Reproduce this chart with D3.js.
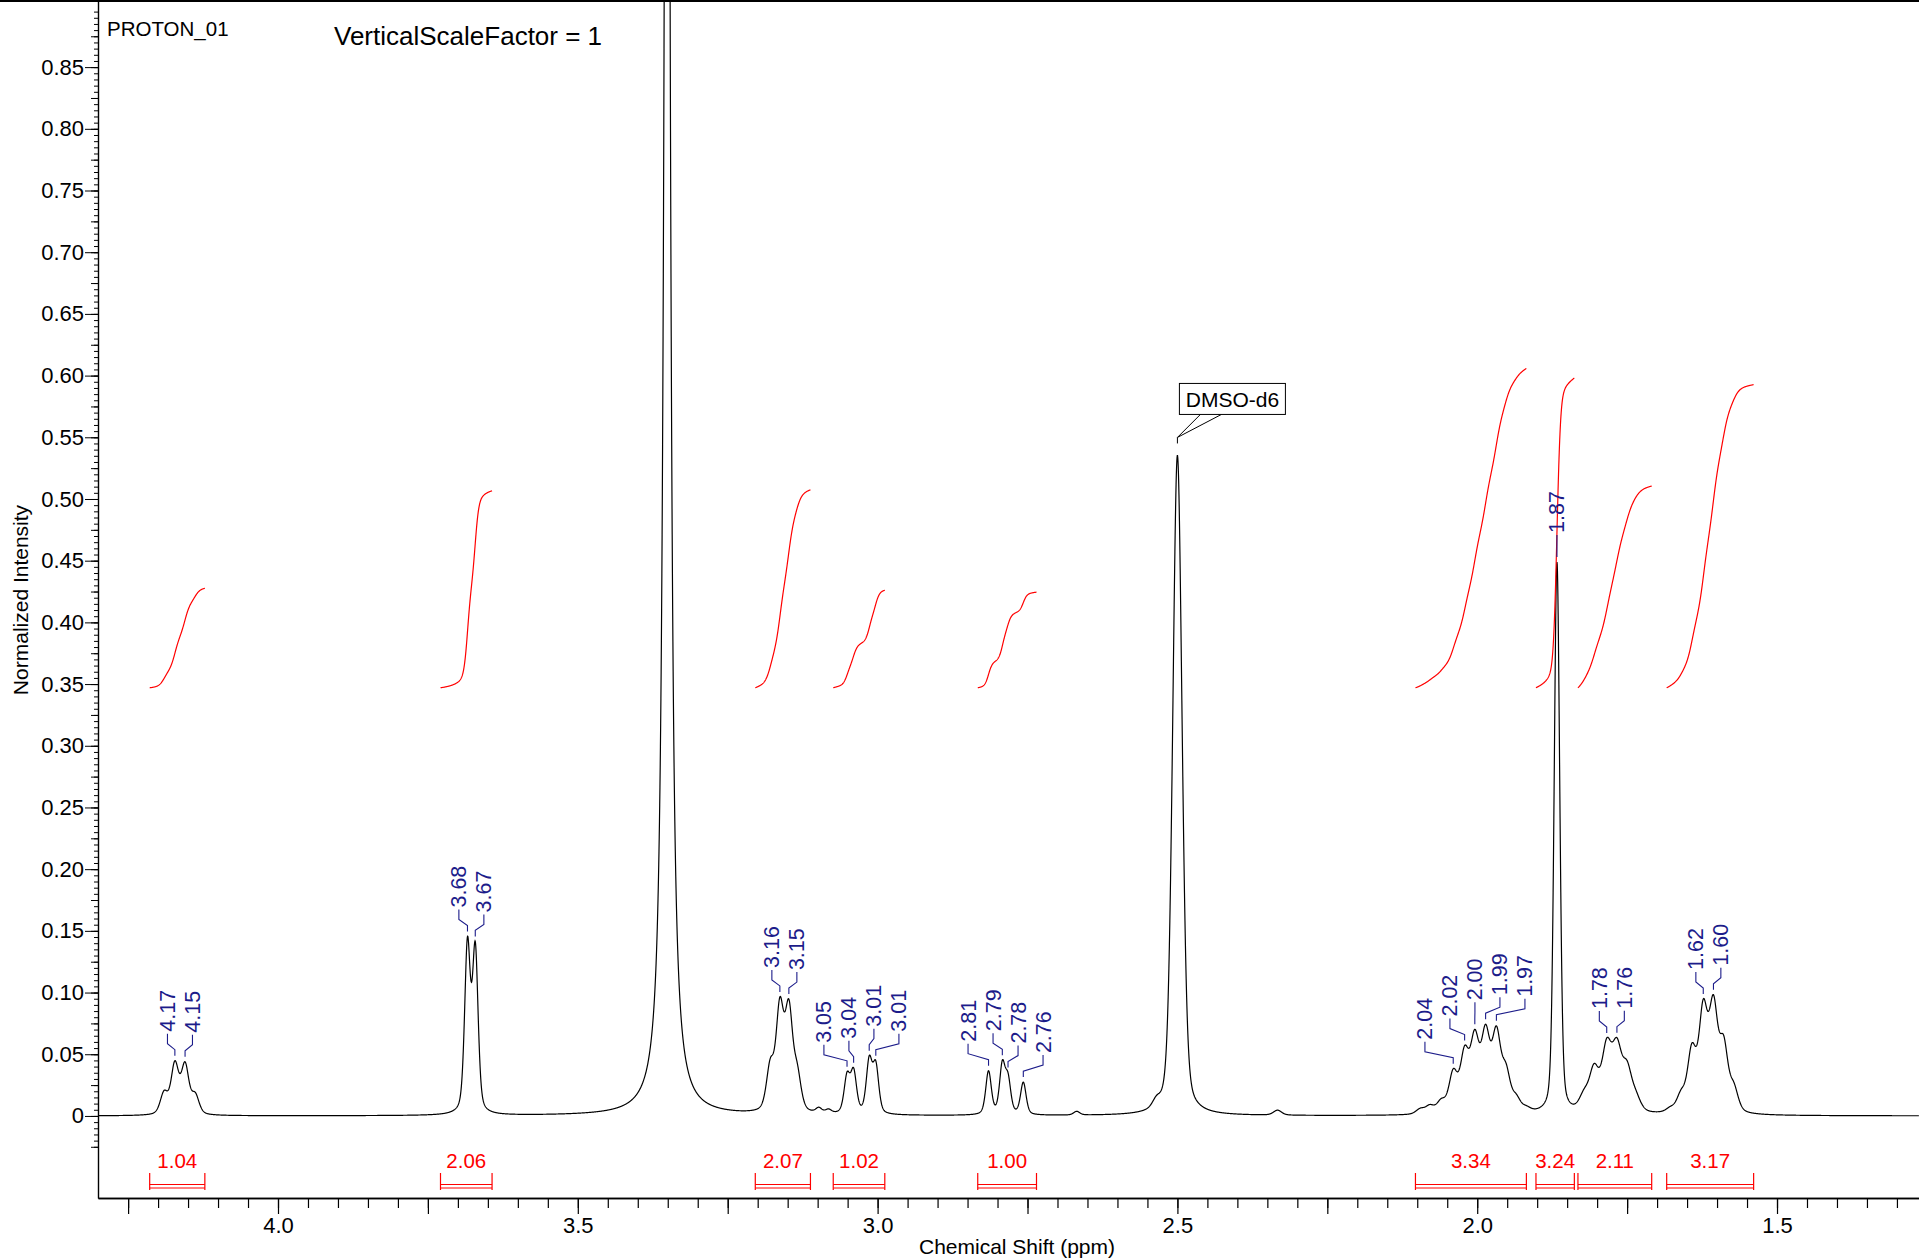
<!DOCTYPE html>
<html><head><meta charset="utf-8">
<script src="https://cdn.jsdelivr.net/npm/d3@7"></script>
<style>
html,body{margin:0;padding:0;background:#fff;}
svg{display:block;font-family:"Liberation Sans",Arial,sans-serif;}
</style></head><body>
<svg id="chart" width="1919" height="1260"></svg>
<script>
// ---------------- data ----------------
// peak list: position (ppm), height (normalized), half-width (ppm), lorentzian fraction
const peakPpm    = [3.351,
  4.190, 4.172, 4.155, 4.138,
  3.684, 3.671,
  3.179, 3.163, 3.148, 3.134,
  3.098, 3.082,
  3.051, 3.040, 3.014, 3.003,
  2.815, 2.792, 2.7825, 2.757,
  2.668,
  2.500, 2.535,
  2.333,
  2.095, 2.079, 2.060, 2.040, 2.021, 2.004, 1.986, 1.968, 1.952, 1.935, 1.918,
  1.867,
  1.822, 1.805, 1.784, 1.767, 1.750, 1.735,
  1.678, 1.660, 1.642, 1.623, 1.606, 1.589, 1.572];
const peakHeight = [1.8,
  0.017, 0.040, 0.039, 0.015,
  0.1349, 0.1306,
  0.035, 0.0816, 0.079, 0.028,
  0.004, 0.003,
  0.0295, 0.0329, 0.042, 0.0378,
  0.035, 0.039, 0.027, 0.026,
  0.003,
  0.535, 0.006,
  0.004,
  0.004, 0.006, 0.009, 0.031, 0.045, 0.056, 0.060, 0.060, 0.030, 0.010, 0.003,
  0.447,
  0.012, 0.033, 0.050, 0.048, 0.032, 0.010,
  0.003, 0.013, 0.048, 0.079, 0.081, 0.051, 0.018];
const peakWidth  = [0.005,
  0.0075, 0.0075, 0.0075, 0.0075,
  0.0056, 0.0056,
  0.0075, 0.0075, 0.0075, 0.0075,
  0.006, 0.006,
  0.0058, 0.0058, 0.0058, 0.0058,
  0.0055, 0.0055, 0.0055, 0.0055,
  0.006,
  0.0092, 0.008,
  0.008,
  0.0085, 0.0085, 0.0085, 0.0085, 0.0085, 0.0085, 0.0085, 0.0085, 0.0085, 0.0085, 0.0085,
  0.0055,
  0.0095, 0.0095, 0.0095, 0.0095, 0.0095, 0.0095,
  0.0085, 0.0085, 0.0085, 0.0085, 0.0085, 0.0085, 0.0085];
const peakLorentz = peakPpm.map((p, i) => i === 0 ? 1.0 : (p === 2.500 || p === 1.867 ? 0.3 : 0.4));

// peak picking labels
const labelPpm  = [4.172, 4.155, 3.684, 3.671, 3.163, 3.148, 3.051, 3.040, 3.014, 3.003,
  2.815, 2.792, 2.7825, 2.757, 2.040, 2.021, 2.004, 1.986, 1.968, 1.867, 1.784, 1.767, 1.623, 1.606];
const labelText = ["4.17","4.15","3.68","3.67","3.16","3.15","3.05","3.04","3.01","3.01",
  "2.81","2.79","2.78","2.76","2.04","2.02","2.00","1.99","1.97","1.87","1.78","1.76","1.62","1.60"];

// integrals
const integralStart = [4.214, 3.729, 3.204, 3.074, 2.833, 2.103, 1.902, 1.832, 1.684];
const integralEnd   = [4.122, 3.643, 3.112, 2.988, 2.735, 1.918, 1.838, 1.709, 1.539];
const integralValue = ["1.04", "2.06", "2.07", "1.02", "1.00", "3.34", "3.24", "2.11", "3.17"];

// axes
const yTickValues = [0, 0.05, 0.10, 0.15, 0.20, 0.25, 0.30, 0.35, 0.40, 0.45, 0.50, 0.55, 0.60, 0.65, 0.70, 0.75, 0.80, 0.85];
const yTickLabels = ["0","0.05","0.10","0.15","0.20","0.25","0.30","0.35","0.40","0.45","0.50","0.55","0.60","0.65","0.70","0.75","0.80","0.85"];
const xTickValues = [4.0, 3.5, 3.0, 2.5, 2.0, 1.5];
const xTickLabels = ["4.0", "3.5", "3.0", "2.5", "2.0", "1.5"];

const solventPpm = 2.50;
const solventName = "DMSO-d6";
const spectrumName = "PROTON_01";
const scaleNote = "VerticalScaleFactor = 1";

// ---------------- drawing ----------------
const svg = d3.select("#chart");
const FONT = '"Liberation Sans", Arial, sans-serif';
const NAVY = "#1c1c8a";
const RED = "#ff0000";

const x = d3.scaleLinear().domain([4.3002, 1.2632]).range([98, 1919]);
const y = d3.scaleLinear().domain([-0.0665, 0.9044]).range([1198, 0]);

function pv(d, w, eta) { const r = d / w; return eta / (1 + r * r) + (1 - eta) * Math.exp(-Math.LN2 * r * r); }
function spec(p) {
  let s = 0;
  for (let i = 0; i < peakPpm.length; i++) s += peakHeight[i] * pv(p - peakPpm[i], peakWidth[i], peakLorentz[i]);
  return s;
}

// top cut-off title rule
svg.append("rect").attr("x", 0).attr("y", 0).attr("width", 1919).attr("height", 2).attr("fill", "#000");

// clip
svg.append("defs").append("clipPath").attr("id", "plotclip")
  .append("rect").attr("x", 98).attr("y", -5).attr("width", 1821).attr("height", 1203);

// X axis
const xMinor = d3.range(26, 86).map(i => +(i * 0.05).toFixed(2));
const xMajor = d3.range(6, 18).map(i => +(i * 0.25).toFixed(2));
const gx = svg.append("g").attr("transform", "translate(0,1198)");
gx.call(d3.axisBottom(x).tickValues(xMinor).tickSize(10).tickSizeOuter(0).tickFormat(""));
const gx2 = svg.append("g").attr("transform", "translate(0,1198)");
gx2.call(d3.axisBottom(x).tickValues(xMajor).tickSize(16).tickSizeOuter(0).tickPadding(3)
  .tickFormat(d => { const k = xTickValues.findIndex(v => Math.abs(v - d) < 1e-6); return k >= 0 ? xTickLabels[k] : ""; }));
[gx, gx2].forEach(g => { g.attr("font-size", 22).attr("font-family", FONT); g.selectAll("line").attr("stroke-width", 1.2); g.select(".domain").attr("stroke-width", 1.4); });

// Y axis
const yMinor = d3.range(-5, 180).map(i => +(i * 0.005).toFixed(3));
const yMid = d3.range(-1, 36).map(i => +(i * 0.025).toFixed(3));
const gy = svg.append("g").attr("transform", "translate(98,0)");
gy.call(d3.axisLeft(y).tickValues(yMinor).tickSize(4).tickSizeOuter(0).tickFormat(""));
const gy2 = svg.append("g").attr("transform", "translate(98,0)");
gy2.call(d3.axisLeft(y).tickValues(yMid).tickSize(7).tickSizeOuter(0).tickFormat(""));
const gy3 = svg.append("g").attr("transform", "translate(98,0)");
gy3.call(d3.axisLeft(y).tickValues(yTickValues).tickSize(13).tickSizeOuter(0).tickPadding(1)
  .tickFormat((d, i) => yTickLabels[i]));
[gy, gy2, gy3].forEach(g => { g.attr("font-size", 22).attr("font-family", FONT); g.selectAll("line").attr("stroke-width", 1); });
gy2.select(".domain").remove(); gy3.select(".domain").remove();
gy.select(".domain").attr("stroke-width", 1.4);

// axis titles
svg.append("text").attr("x", 1017).attr("y", 1254).attr("text-anchor", "middle")
  .attr("font-size", 21).text("Chemical Shift (ppm)");
svg.append("text").attr("transform", "translate(28,600) rotate(-90)").attr("text-anchor", "middle")
  .attr("font-size", 21).text("Normalized Intensity");
svg.append("text").attr("x", 107).attr("y", 36).attr("font-size", 20.5).text(spectrumName);
svg.append("text").attr("x", 334).attr("y", 45).attr("font-size", 26).text(scaleNote);

// spectrum
const step = 0.0004;
const pts = d3.range(0, Math.round((4.3002 - 1.2632) / step) + 1).map(i => { const p = 4.3002 - i * step; return [p, spec(p)]; });
svg.append("path").attr("clip-path", "url(#plotclip)")
  .attr("d", d3.line().x(d => x(d[0])).y(d => y(d[1]))(pts))
  .attr("fill", "none").attr("stroke", "#000").attr("stroke-width", 1.2);

// integrals
const intBase = 0.347, intScale = 0.0775;
integralStart.forEach((a, k) => {
  const b = integralEnd[k];
  const n = Math.round((a - b) / step);
  let cum = 0; const c = [[a, 0]];
  let prev = spec(a);
  for (let i = 1; i <= n; i++) {
    const p = a - i * (a - b) / n; const v = spec(p);
    cum += (prev + v) / 2; prev = v; c.push([p, cum]);
  }
  const rise = (+integralValue[k]) * intScale;
  svg.append("path")
    .attr("d", d3.line().x(d => x(d[0])).y(d => y(intBase + rise * d[1] / cum))(c))
    .attr("fill", "none").attr("stroke", RED).attr("stroke-width", 1.2);
  const x1 = x(a), x2 = x(b);
  const g = svg.append("g").attr("stroke", RED).attr("stroke-width", 1.2);
  g.append("line").attr("x1", x1).attr("x2", x1).attr("y1", 1173).attr("y2", 1190);
  g.append("line").attr("x1", x2).attr("x2", x2).attr("y1", 1173).attr("y2", 1190);
  g.append("line").attr("x1", x1).attr("x2", x2).attr("y1", 1184.5).attr("y2", 1184.5);
  g.append("line").attr("x1", x1).attr("x2", x2).attr("y1", 1188).attr("y2", 1188);
  svg.append("text").attr("x", (x1 + x2) / 2).attr("y", 1168).attr("text-anchor", "middle")
    .attr("fill", RED).attr("font-size", 20.5).text(integralValue[k]);
});

// peak labels with dodge
const lx = labelPpm.map(p => x(p));
const gap = 25;
for (let it = 0; it < 300; it++) {
  for (let i = 1; i < lx.length; i++) {
    const dd = lx[i] - lx[i - 1];
    if (dd < gap) { const s = (gap - dd) / 2; lx[i - 1] -= s; lx[i] += s; }
  }
}
labelPpm.forEach((p, i) => {
  const px = x(p), top = y(spec(p));
  const L = lx[i];
  svg.append("path")
    .attr("d", `M${px},${top - 5}V${top - 11}L${L},${top - 17}V${top - 27}`)
    .attr("fill", "none").attr("stroke", NAVY).attr("stroke-width", 1.1);
  svg.append("text").attr("transform", `translate(${L},${top - 29}) rotate(-90)`)
    .attr("dy", "0.35em").attr("fill", NAVY).attr("font-size", 21.5).text(labelText[i]);
});

// solvent annotation
{
  const sx = x(solventPpm), st = y(spec(solventPpm));
  const g = svg.append("g").attr("stroke", "#000").attr("stroke-width", 1).attr("fill", "none");
  g.append("path").attr("d", `M${sx},${st - 12}V${st - 18}L${sx + 23},${st - 41}M${sx},${st - 18}L${sx + 44},${st - 41}`);
  g.append("rect").attr("x", sx + 2).attr("y", st - 72).attr("width", 106).attr("height", 31).attr("fill", "#fff");
  svg.append("text").attr("x", sx + 55).attr("y", st - 48.5).attr("text-anchor", "middle")
    .attr("font-size", 21).text(solventName);
}
</script>
</body></html>
